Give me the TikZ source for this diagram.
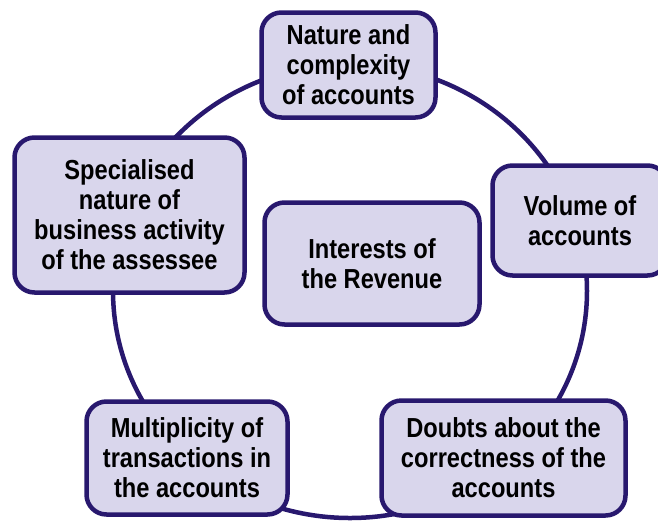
\documentclass[tikz,border=0pt]{standalone}
\usepackage{fontspec}
\setmainfont{Liberation Sans}[FakeStretch=0.86]
\definecolor{boxfill}{RGB}{217,214,236}
\definecolor{boxline}{RGB}{40,24,110}
\begin{document}
\begin{tikzpicture}[x=1pt,y=-1pt,
  factor/.style={draw=boxline, fill=boxfill, line width=4.5pt, rounded corners=20pt,
    align=center, inner sep=0pt, text=black,
    font=\fontsize{27.5}{30}\selectfont\bfseries},
  ring/.style={draw=boxline, line width=4.5pt}]
\useasboundingbox (0,0) rectangle (658,520);
\draw[ring] (350,291) ellipse [x radius=237, y radius=227];
\node[factor, minimum width=174, minimum height=105] (nat) at (348.5,65) {Nature and\\complexity\\of accounts};
\node[factor, minimum width=175, minimum height=110] (vol) at (580,220.5) {Volume of\\accounts};
\node[factor, minimum width=244, minimum height=115] (dou) at (503.5,458) {Doubts about the\\correctness of the\\accounts};
\node[factor, minimum width=201, minimum height=113] (mul) at (187,458) {Multiplicity of\\transactions in\\the accounts};
\node[factor, minimum width=230, minimum height=155] (spe) at (129.5,215) {Specialised\\nature of\\business activity\\of the assessee};
\node[factor, minimum width=215, minimum height=122] (int) at (372,263.5) {Interests of\\the Revenue};
\end{tikzpicture}
\end{document}
